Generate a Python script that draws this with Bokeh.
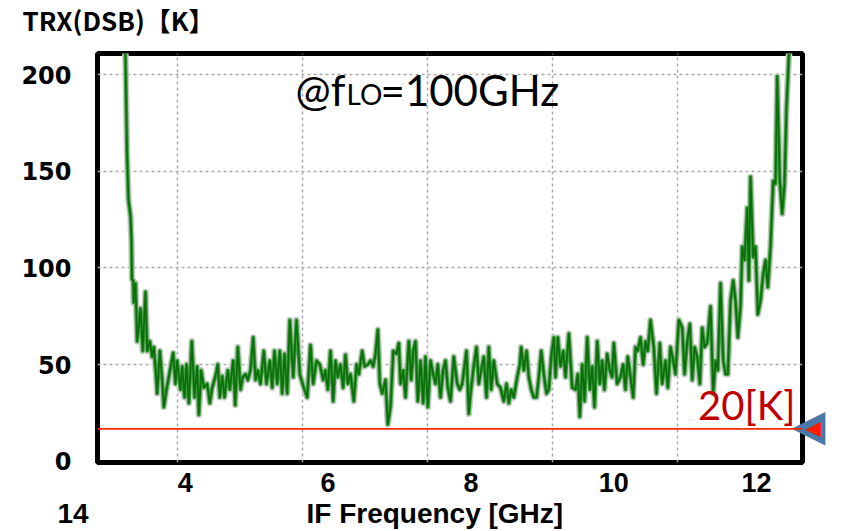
from bokeh.plotting import figure
from bokeh.models import Range1d, FixedTicker, Label, Span, Title
from bokeh.embed import file_html
from bokeh.resources import INLINE

# ---------------- data ----------------
freq_ghz = [
    3.148, 3.183, 3.204, 3.232, 3.246, 3.253, 3.270, 3.277, 3.302, 3.326,
    3.372, 3.404, 3.442, 3.466, 3.502, 3.536, 3.559, 3.592, 3.606, 3.643,
    3.676, 3.699, 3.736, 3.769, 3.830, 3.862, 3.886, 3.932, 3.956, 3.989,
    4.017, 4.049, 4.091, 4.129, 4.166, 4.189, 4.222, 4.259, 4.306, 4.343,
    4.376, 4.423, 4.455, 4.483, 4.517, 4.549, 4.595, 4.623, 4.671, 4.699,
    4.735, 4.773, 4.805, 4.843, 4.875, 4.913, 4.951, 4.983, 5.015, 5.053,
    5.099, 5.137, 5.183, 5.217, 5.249, 5.287, 5.323, 5.357, 5.389, 5.427,
    5.463, 5.511, 5.557, 5.603, 5.659, 5.707, 5.753, 5.791, 5.837, 5.884,
    5.931, 5.963, 5.996, 6.033, 6.071, 6.103, 6.136, 6.173, 6.211, 6.243,
    6.276, 6.313, 6.360, 6.398, 6.430, 6.477, 6.510, 6.556, 6.594, 6.631,
    6.664, 6.696, 6.724, 6.758, 6.804, 6.836, 6.874, 6.912, 6.958, 6.990,
    7.014, 7.052, 7.084, 7.130, 7.164, 7.192, 7.224, 7.256, 7.294, 7.331,
    7.364, 7.396, 7.434, 7.471, 7.504, 7.536, 7.574, 7.611, 7.644, 7.676,
    7.714, 7.760, 7.808, 7.844, 7.878, 7.910, 7.938, 7.970, 7.994, 8.040,
    8.078, 8.110, 8.144, 8.180, 8.218, 8.250, 8.284, 8.320, 8.368, 8.414,
    8.460, 8.498, 8.531, 8.564, 8.601, 8.648, 8.685, 8.704, 8.741, 8.779,
    8.811, 8.845, 8.881, 8.919, 8.951, 8.985, 9.021, 9.059, 9.091, 9.125,
    9.161, 9.185, 9.217, 9.255, 9.293, 9.325, 9.371, 9.419, 9.465, 9.497,
    9.525, 9.559, 9.591, 9.629, 9.665, 9.699, 9.731, 9.769, 9.805, 9.839,
    9.870, 9.908, 9.945, 9.978, 10.001, 10.048, 10.095, 10.132, 10.164, 10.197,
    10.235, 10.273, 10.305, 10.337, 10.375, 10.413, 10.445, 10.477, 10.515, 10.561,
    10.599, 10.645, 10.679, 10.725, 10.758, 10.795, 10.833, 10.866, 10.912, 10.960,
    10.992, 11.030, 11.066, 11.100, 11.132, 11.170, 11.206, 11.240, 11.272, 11.310,
    11.356, 11.394, 11.426, 11.458, 11.496, 11.534, 11.566, 11.598, 11.636, 11.674,
    11.706, 11.738, 11.776, 11.800, 11.832, 11.870, 11.892, 11.916, 11.954, 11.986,
    12.018, 12.056, 12.094, 12.126, 12.158, 12.196, 12.234, 12.266, 12.290, 12.326,
    12.360, 12.392, 12.420, 12.452, 12.476, 12.504,
]
trx_dsb_k = [
    240, 160, 135, 127, 114, 94, 93.5, 82, 92, 62,
    79, 57, 87.5, 57, 62, 54, 59, 43.5, 35, 57,
    42, 28, 37, 43.5, 56, 40, 52, 37, 49, 33,
    50, 30, 62, 33, 49, 24, 47, 38, 40, 30,
    38, 44, 50, 33, 44, 33, 47, 37, 52, 29,
    59, 37, 43.5, 45, 42, 47, 64, 42, 47, 40,
    57, 40, 52, 38, 57, 40, 57, 35, 55.5, 35,
    73, 43.5, 73, 45, 38, 33, 60, 40, 52, 50,
    42, 47, 37, 57, 31, 52, 43.5, 50, 38, 55,
    40, 45, 31, 50, 45, 57, 49, 50, 52, 49,
    55.5, 68, 40, 35, 42, 19, 28, 57, 55.5, 61,
    40, 47, 33, 62, 42, 57, 62, 31, 52, 30,
    54, 28, 52, 45, 40, 50, 33, 47, 52, 38,
    31, 54, 40, 37, 40, 49, 57, 24.5, 35, 49,
    59, 40, 47, 54, 33, 59, 37, 52, 40, 38,
    31, 40, 30, 37, 33, 43.5, 50, 59, 47, 57,
    43.5, 37, 33, 33, 43.5, 57, 45, 35, 37, 54,
    64, 43.5, 64, 49, 57, 43.5, 66, 38, 37, 45,
    23, 50, 31, 64, 37, 49, 28, 62, 40, 52,
    37, 55.5, 47, 43.5, 61, 40, 43.5, 50, 37, 54,
    43.5, 33, 59, 57, 64, 50, 62, 57, 73, 59,
    35, 61, 40, 52, 38, 59, 52, 45, 73, 69,
    45, 62, 71, 42, 59, 54, 40, 69, 59, 61,
    80, 35, 52, 47, 92, 52, 45, 45, 83, 93.5,
    83, 64, 80, 111, 104, 131, 93.5, 147, 105.5, 111,
    76, 83, 97, 104, 90, 111, 145, 143.5, 199, 145,
    128, 143.5, 183, 209, 218, 230,
]
x_tick_values = [4, 6, 8, 10, 12]
y_tick_values = [0, 50, 100, 150, 200]
# grid of the original analyser display (not aligned with the slide's labels)
grid_freqs = [3.890, 5.641, 7.392, 9.143, 10.893]
grid_levels = [50, 100, 150, 200]
ref_level_k = 16.7

title_text = "TRX(DSB)【K】"
x_title_text = "IF Frequency [GHz]"
stray_label = "14"

# ---------------- figure ----------------
p = figure(width=846, height=531, output_backend="svg", toolbar_location=None,
           title=None,
           x_range=Range1d(2.770, 12.644), y_range=Range1d(-0.7, 210.9),
           min_border_left=97, min_border_right=44, min_border_top=53,
           min_border_bottom=69)
p.background_fill_color = "white"
p.border_fill_color = "white"
p.outline_line_color = "black"
p.outline_line_width = 5

# title (top-left); a blank spacer keeps it at the reference height
p.add_layout(Title(text="\u00a0", text_font_size="12px", standoff=3,
                   text_font="Liberation Sans"), "above")
p.add_layout(Title(text=title_text, align="left", offset=-75,
                   vertical_align="bottom", standoff=-6,
                   text_font="Noto Sans CJK JP", text_font_style="bold",
                   text_font_size="26px", text_color="black"), "above")

# axes
for ax in (p.xaxis, p.yaxis):
    ax.axis_line_color = None
    ax.major_tick_line_color = None
    ax.minor_tick_line_color = None
    ax.major_label_text_color = "black"
    ax.major_label_text_font_style = "bold"
p.xaxis.ticker = FixedTicker(ticks=x_tick_values)
p.xaxis.major_label_text_font = "Liberation Sans"
p.xaxis.major_label_text_font_size = "27px"
p.xaxis.major_label_standoff = 4
p.yaxis.ticker = FixedTicker(ticks=y_tick_values)
p.yaxis.major_label_text_font = "DejaVu Sans"
p.yaxis.major_label_text_font_size = "24px"
p.yaxis.major_label_standoff = 20

# bottom line of text: stray "14" and the x-axis title
p.add_layout(Title(text=stray_label + "\u00a0" * 28 + x_title_text,
                   align="left", offset=-40, vertical_align="bottom", standoff=3,
                   text_font="Liberation Sans", text_font_style="bold",
                   text_font_size="28px", text_color="black"), "below")

# blue/red marker at the right end of the reference line (rotated glyph -> points left)
p.add_layout(Title(text="▼", align="right", offset=17, vertical_align="bottom",
                   standoff=-32, text_font="DejaVu Sans", text_font_size="44px",
                   text_color="#4a78a8"), "right")
p.add_layout(Title(text="▼", align="right", offset=25, vertical_align="bottom",
                   standoff=-41, text_font="DejaVu Sans", text_font_size="20px",
                   text_color="#ff1a00"), "right")

# grid
p.xgrid.ticker = FixedTicker(ticks=grid_freqs)
p.ygrid.ticker = FixedTicker(ticks=grid_levels)
for g in (p.xgrid, p.ygrid):
    g.grid_line_color = "#a9a9a9"
    g.grid_line_dash = "3 3"
    g.grid_line_width = 1.5

# reference line
p.add_layout(Span(location=ref_level_k, dimension="width",
                  line_color="#ff2a00", line_width=1.6))

# trace: grey halo + green
p.line(freq_ghz, trx_dsb_k, line_color="#c8ccc8", line_width=6.5, line_join="round")
p.line(freq_ghz, trx_dsb_k, line_color="#40a040", line_width=3.8, line_join="round")
p.line(freq_ghz, trx_dsb_k, line_color="#0b6e0b", line_width=1.8, line_join="round")

# in-plot texts
p.add_layout(Label(x=6.243, y=192.2, text="@f", text_font="Lato",
                   text_font_size="42px", text_color="black",
                   text_baseline="middle", text_align="right"))
p.add_layout(Label(x=6.258, y=189.7, text="LO", text_font="Lato",
                   text_font_size="28px", text_color="black",
                   text_baseline="middle", text_align="left"))
p.add_layout(Label(x=6.734, y=192.2, text="=100GHz", text_font="Lato",
                   text_font_size="42px", text_color="black",
                   text_baseline="middle", text_align="left"))
p.add_layout(Label(x=12.546, y=29.3, text="20[K]", text_font="Lato",
                   text_font_size="40px", text_color="#c00000",
                   text_baseline="middle", text_align="right"))

open("out.html", "w").write(file_html(p, INLINE))
